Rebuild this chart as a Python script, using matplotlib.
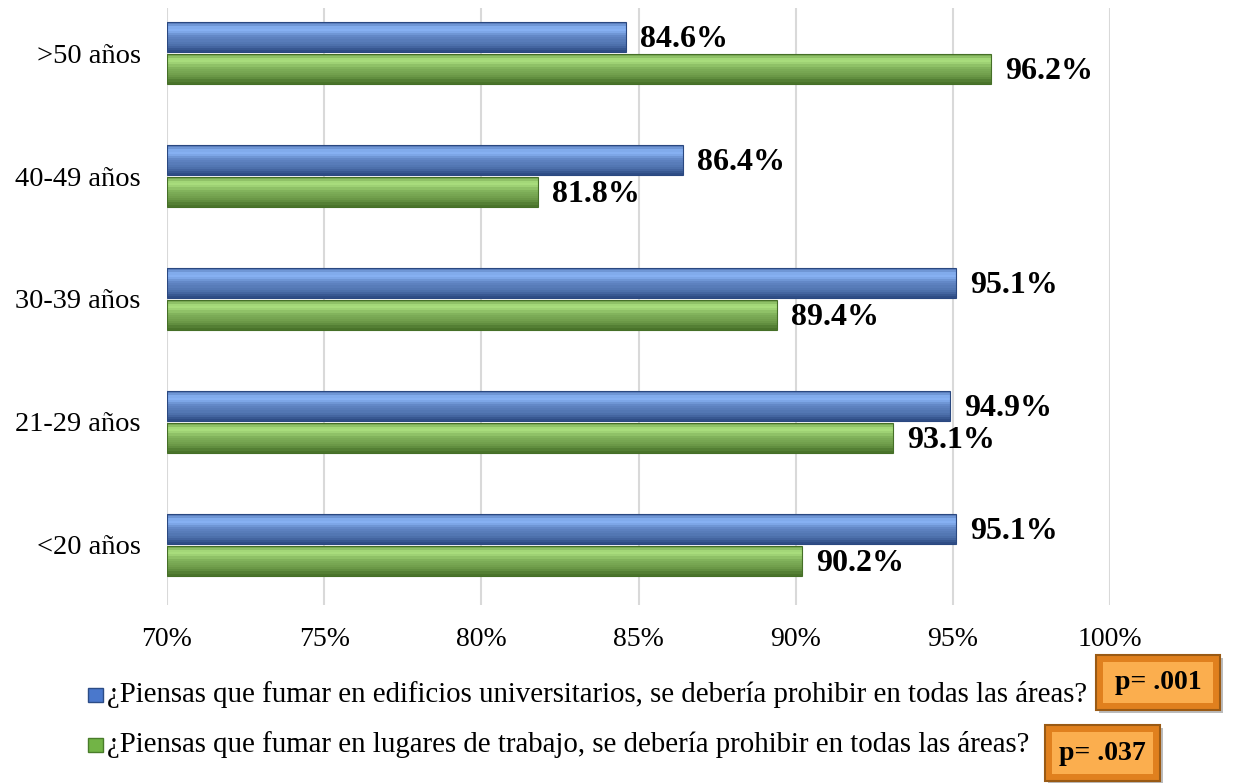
import matplotlib.pyplot as plt
import numpy as np
from matplotlib.colors import to_rgb

plt.rcParams['font.family'] = ['Liberation Serif', 'DejaVu Serif']

grupos = ['<20 años', '21-29 años', '30-39 años', '40-49 años', '>50 años']
edificios = [95.1, 94.9, 95.1, 86.4, 84.6]
trabajo = [90.2, 93.1, 89.4, 81.8, 96.2]
ticks = [70, 75, 80, 85, 90, 95, 100]
leyenda = ['¿Piensas que fumar en edificios universitarios, se debería prohibir en todas las áreas?',
           '¿Piensas que fumar en lugares de trabajo, se debería prohibir en todas las áreas?']
pvalores = ['p= .001', 'p= .037']

W, H = 1234, 783
fig = plt.figure(figsize=(W / 100, H / 100), dpi=100)
ax = fig.add_axes([167 / W, 1 - 605 / H, (1110 - 167) / W, (605 - 8) / H])

y = np.arange(len(grupos))
h = 0.245
off = 0.128
base = 70

# shading profile from top to bottom of a bar: 0 = dark, 1 = light
perfil = [0.55, 0.75, 0.95, 1.0, 0.9, 0.75, 0.62, 0.55, 0.5, 0.45, 0.38, 0.28, 0.15, 0.05]


def bevel_bars(ypos, vals, light, dark):
    w = np.array(vals) - base
    n = len(perfil)
    lo, hi = np.array(to_rgb(dark)), np.array(to_rgb(light))
    for j, t in enumerate(perfil):
        c = lo + (hi - lo) * t
        yc = ypos + h / 2 - (j + 0.5) * h / n
        ax.barh(yc, w, left=base, height=h / n * 1.05, color=c, linewidth=0, zorder=2)
    ax.barh(ypos, w, left=base, height=h, color='none', edgecolor=dark, linewidth=0.8, zorder=3)


bevel_bars(y + off, edificios, '#86B0F2', '#2A4880')
bevel_bars(y - off, trabajo, '#A8DC7C', '#456F27')

for i in range(len(grupos)):
    ax.text(edificios[i] + 0.45, y[i] + off - 0.02, f'{edificios[i]:.1f}%', va='center', ha='left',
            fontsize=23, fontweight='bold', zorder=5)
    ax.text(trabajo[i] + 0.45, y[i] - off - 0.02, f'{trabajo[i]:.1f}%', va='center', ha='left',
            fontsize=23, fontweight='bold', zorder=5)

ax.set_xlim(70, 100)
ax.set_ylim(-0.488, 4.366)
ax.set_xticks(ticks)
ax.set_xticklabels([f'{t}%' for t in ticks], fontsize=20)
ax.set_yticks(y)
ax.set_yticklabels(grupos, fontsize=20.5)
ax.tick_params(axis='x', length=0, pad=16)
ax.tick_params(axis='y', length=0, pad=19)
ax.grid(axis='x', color='#D9D9D9', linewidth=1.5, zorder=0)
for s in ax.spines.values():
    s.set_visible(False)

# legend entries
for k, (txt, col, dk) in enumerate(zip(leyenda, ['#4A78CC', '#72B446'], ['#2C4C86', '#497C2A'])):
    yy = 1 - (695 + 50 * k) / H
    fig.patches.append(plt.Rectangle((88 / W, yy - 7 / H), 15 / W, 14 / H, transform=fig.transFigure,
                                     facecolor=col, edgecolor=dk, linewidth=1))
    fig.text(107 / W, yy, txt, fontsize=20.8, va='center', ha='left')

# p-value boxes
boxes = [(1096, 655, 124, 55), (1045, 725, 115, 56)]
for (bx, by, bw, bh), p in zip(boxes, pvalores):
    fig.patches.append(plt.Rectangle(((bx + 3) / W, 1 - (by + bh + 3) / H), bw / W, bh / H,
                                     transform=fig.transFigure, facecolor='#BBBBBB', linewidth=0))
    fig.patches.append(plt.Rectangle((bx / W, 1 - (by + bh) / H), bw / W, bh / H, transform=fig.transFigure,
                                     facecolor='#E0801E', edgecolor='#9A5A14', linewidth=1.5))
    fig.patches.append(plt.Rectangle(((bx + 7) / W, 1 - (by + bh - 7) / H), (bw - 14) / W, (bh - 14) / H,
                                     transform=fig.transFigure, facecolor='#FBAE4E', linewidth=0))
    fig.text((bx + bw / 2) / W, 1 - (by + bh / 2) / H, p, fontsize=20, fontweight='bold',
             ha='center', va='center')

fig.savefig('out.png', dpi=100, facecolor='white')
